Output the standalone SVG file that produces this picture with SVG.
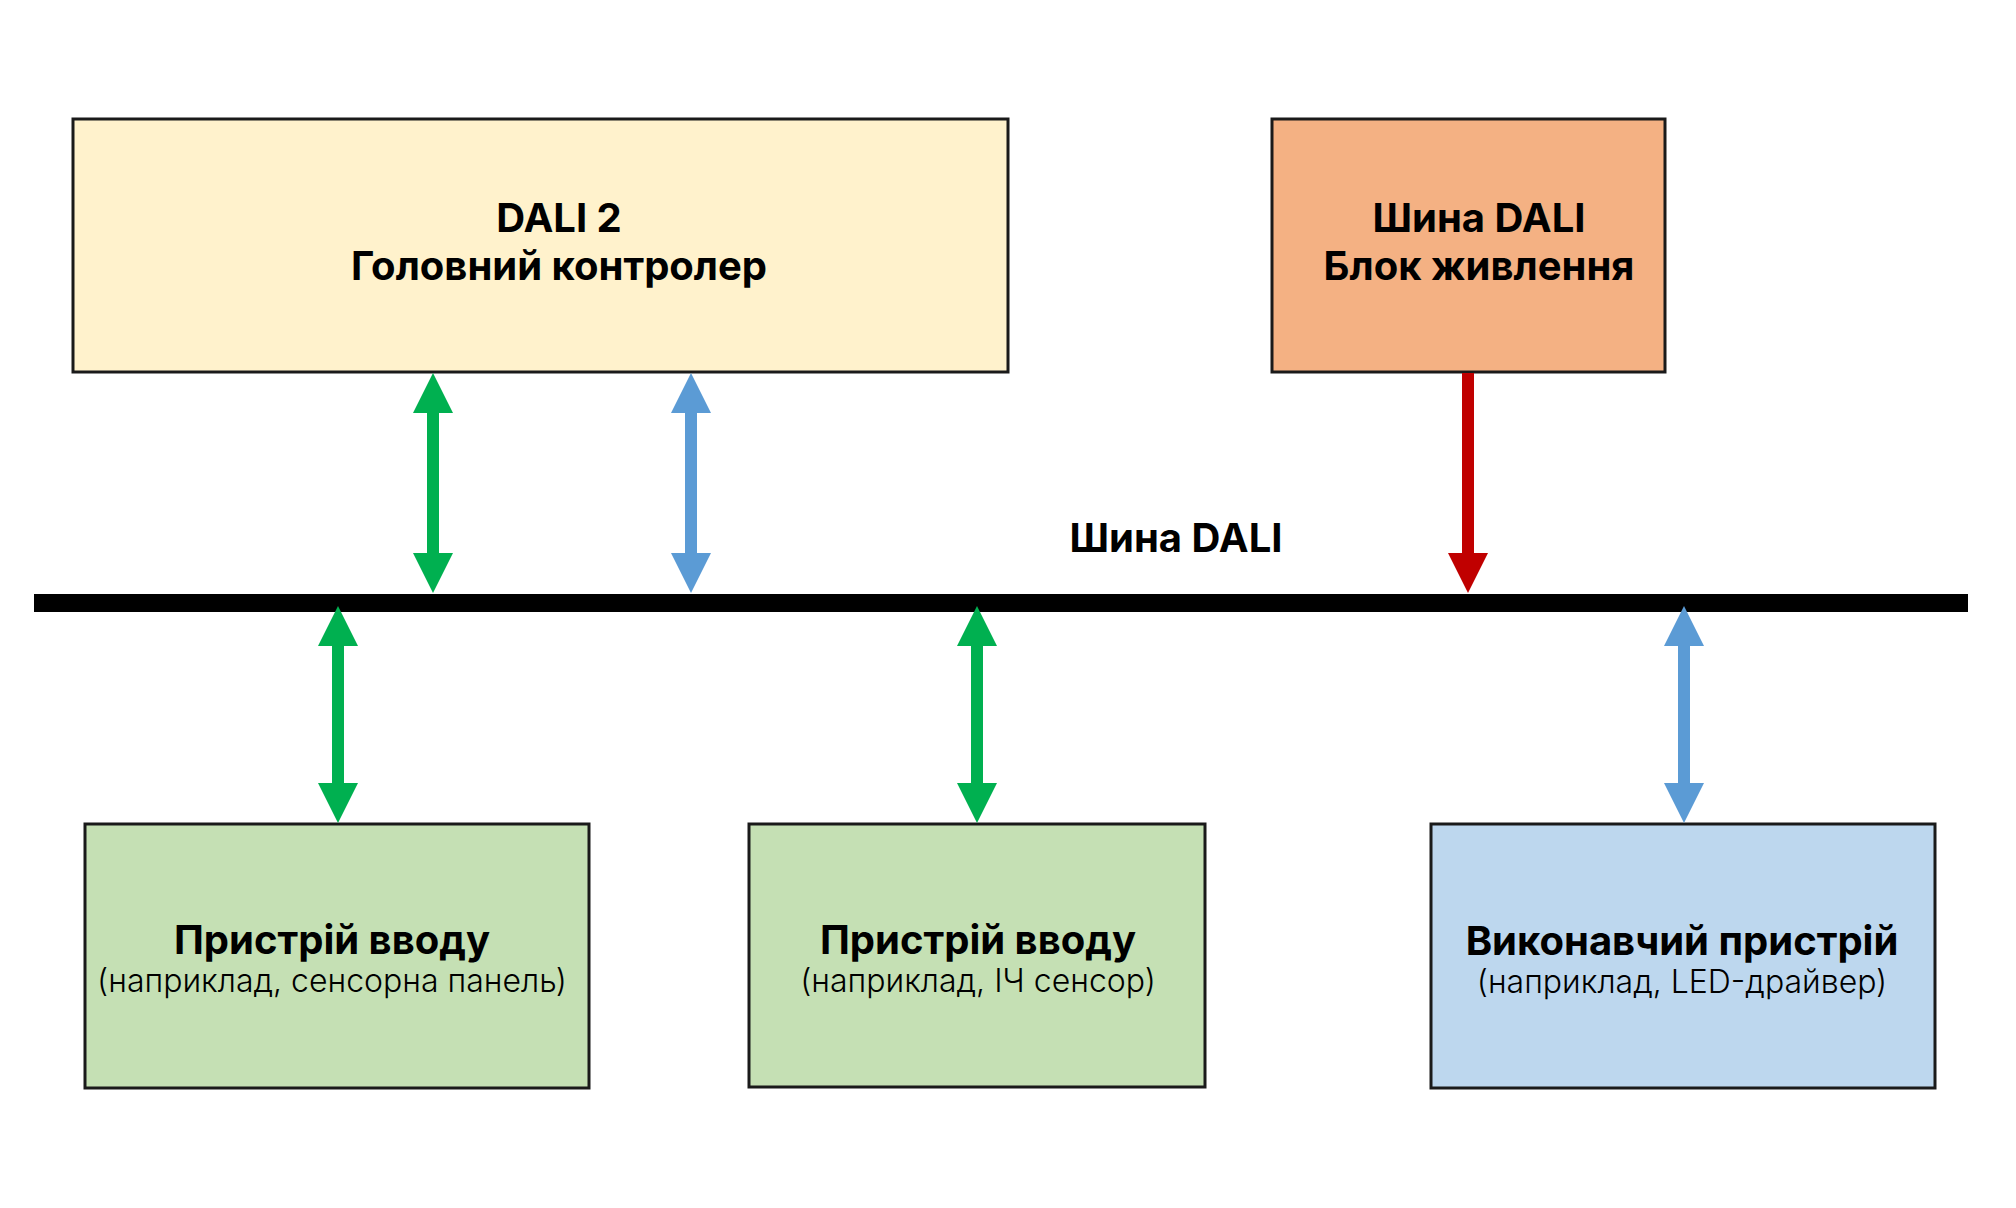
<svg xmlns="http://www.w3.org/2000/svg" width="2016" height="1208" viewBox="0 0 2016 1208">
<defs>
<style>
.box{stroke:#1a1a1a;stroke-width:3}
.t{font-family:Inter,Roboto,"Noto Sans","Liberation Sans",sans-serif;font-weight:700;font-size:40px;fill:#000;text-anchor:middle}
.s{font-family:Inter,Roboto,"Noto Sans","Liberation Sans",sans-serif;font-weight:300;font-size:32px;fill:#000;text-anchor:middle}
.g{stroke:#00B050;stroke-width:12}
.b{stroke:#5B9BD5;stroke-width:12}
.r{stroke:#C00000;stroke-width:12}
</style>
<marker id="hg" markerUnits="userSpaceOnUse" markerWidth="40" markerHeight="40" viewBox="0 0 40 40" refX="1" refY="20" orient="auto-start-reverse"><path d="M0,0 L40,20 L0,40 Z" fill="#00B050"/></marker>
<marker id="hb" markerUnits="userSpaceOnUse" markerWidth="40" markerHeight="40" viewBox="0 0 40 40" refX="1" refY="20" orient="auto-start-reverse"><path d="M0,0 L40,20 L0,40 Z" fill="#5B9BD5"/></marker>
<marker id="hr" markerUnits="userSpaceOnUse" markerWidth="40" markerHeight="40" viewBox="0 0 40 40" refX="1" refY="20" orient="auto-start-reverse"><path d="M0,0 L40,20 L0,40 Z" fill="#C00000"/></marker>
</defs>
<rect width="2016" height="1208" fill="#fff"/>
<g id="controller">
<rect class="box" x="73" y="119" width="935" height="253" fill="#FFF2CC"/>
<text class="t" x="559" y="232">DALI 2</text>
<text class="t" x="559" y="280">Головний контролер</text>
</g>
<g id="power">
<rect class="box" x="1272" y="119" width="393" height="253" fill="#F4B183"/>
<text class="t" x="1479" y="232">Шина DALI</text>
<text class="t" x="1479" y="280">Блок живлення</text>
</g>
<g id="bus">
<rect x="34" y="594" width="1934" height="18" fill="#000"/>
<text class="t" x="1176" y="552">Шина DALI</text>
</g>
<g id="input1">
<rect class="box" x="85" y="824" width="504" height="264" fill="#C5E0B4"/>
<text class="t" x="332" y="954">Пристрій вводу</text>
<text class="s" x="332" y="992">(наприклад, сенсорна панель)</text>
</g>
<g id="input2">
<rect class="box" x="749" y="824" width="456" height="263" fill="#C5E0B4"/>
<text class="t" x="978" y="954">Пристрій вводу</text>
<text class="s" x="978" y="992">(наприклад, ІЧ сенсор)</text>
</g>
<g id="actuator">
<rect class="box" x="1431" y="824" width="504" height="264" fill="#BDD7EE"/>
<text class="t" x="1682" y="955">Виконавчий пристрій</text>
<text class="s" x="1682" y="993">(наприклад, LED-драйвер)</text>
</g>
<g id="connectors">
<line class="g" x1="433" y1="412" x2="433" y2="554" marker-start="url(#hg)" marker-end="url(#hg)"/>
<line class="b" x1="691" y1="412" x2="691" y2="554" marker-start="url(#hb)" marker-end="url(#hb)"/>
<line class="r" x1="1468" y1="373" x2="1468" y2="554" marker-end="url(#hr)"/>
<line class="g" x1="338" y1="645" x2="338" y2="784" marker-start="url(#hg)" marker-end="url(#hg)"/>
<line class="g" x1="977" y1="645" x2="977" y2="784" marker-start="url(#hg)" marker-end="url(#hg)"/>
<line class="b" x1="1684" y1="645" x2="1684" y2="784" marker-start="url(#hb)" marker-end="url(#hb)"/>
</g>
</svg>
